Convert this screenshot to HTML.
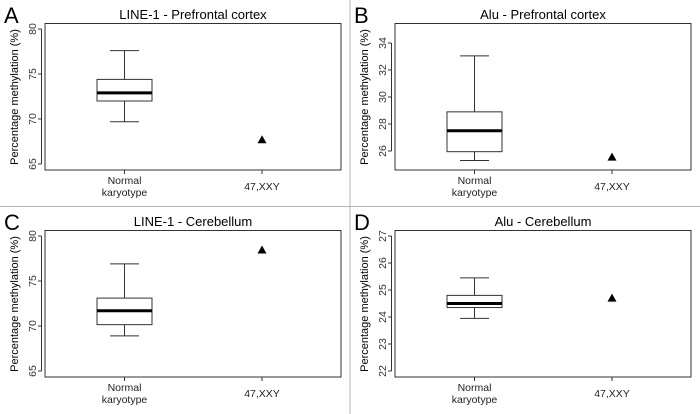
<!DOCTYPE html>
<html><head><meta charset="utf-8"><style>
html,body{margin:0;padding:0;background:#fff}
svg{display:block;font-family:"Liberation Sans",sans-serif}
</style></head><body>
<svg id="fig" width="700" height="414" viewBox="0 0 700 414">
<line x1="350" y1="0" x2="350" y2="414" stroke="#b5b5b5" stroke-width="1"/>
<line x1="0" y1="206.5" x2="700" y2="206.5" stroke="#b5b5b5" stroke-width="1"/>
</svg>
<script>
// panel data
const panelLetters = ["A","B","C","D"];
const panelTitles = ["LINE-1 - Prefrontal cortex","Alu - Prefrontal cortex","LINE-1 - Cerebellum","Alu - Cerebellum"];
const categories = ["Normal karyotype","47,XXY"];
const whiskerLow = [69.7, 25.3, 68.9, 23.95];
const q1 = [72.0, 25.95, 70.15, 24.35];
const median = [72.9, 27.5, 71.7, 24.5];
const q3 = [74.4, 28.9, 73.1, 24.8];
const whiskerHigh = [77.6, 33.05, 76.9, 25.45];
const xxyValue = [67.7, 25.55, 78.45, 24.7];
const tickA = [65,70,75,80];
const tickB = [26,28,30,32,34];
const tickC = [65,70,75,80];
const tickD = [22,23,24,25,26,27];
const ticks = [tickA,tickB,tickC,tickD];

const NS="http://www.w3.org/2000/svg";
const svg=document.getElementById('fig');
function mk(tag,attrs,parent){const e=document.createElementNS(NS,tag);for(const k in attrs)e.setAttribute(k,attrs[k]);(parent||svg).appendChild(e);return e;}

// layout: offsets and tick pixel anchors (first/last tick)
const offX=[0,350,0,350], offY=[0,0,207,207];
const tickPix=[[164,29],[151,43],[164,29],[164,29]];

for(let p=0;p<4;p++){
  const ox=offX[p], oy=offY[p];
  const g=mk('g',{transform:`translate(${ox},${oy})`});
  
  
  const t=ticks[p], t0=t[0], t1=t[t.length-1];
  const y=v=>tickPix[p][0]+(v-t0)*(tickPix[p][1]-tickPix[p][0])/(t1-t0);
  const xc=[124.5,262];
  let e;
  e=mk('text',{x:4,y:23,'font-size':22,fill:'#000'},g);e.textContent=panelLetters[p];
  
  e=mk('text',{x:193,y:19,'font-size':13,'text-anchor':'middle',fill:'#000'},g);e.textContent=panelTitles[p];
  
  e=mk('rect',{x:45,y:23.5,width:296,height:146.5,fill:'none',stroke:'#333','stroke-width':1},g);
  
  // y axis
  e=mk('line',{x1:41.5,x2:41.5,y1:y(t0),y2:y(t1),stroke:'#333'},g);
  
  t.forEach(v=>{
    e=mk('line',{x1:38,x2:41.5,y1:y(v),y2:y(v),stroke:'#333'},g);
    
    e=mk('text',{x:0,y:0,'font-size':10.5,'text-anchor':'middle',fill:'#333',transform:`translate(36,${y(v)}) rotate(-90)`},g);
    e.textContent=v;
    
  });
  e=mk('text',{x:0,y:0,'font-size':11,'text-anchor':'middle',fill:'#000',transform:'translate(18,97) rotate(-90)'},g);
  e.textContent='Percentage methylation (%)';
  
  // x ticks
  xc.forEach((x,i)=>{
    e=mk('line',{x1:x,x2:x,y1:170,y2:174,stroke:'#333'},g);
    
  });
  e=mk('text',{x:xc[0],y:184,'font-size':10.5,'text-anchor':'middle',fill:'#222'},g);e.textContent='Normal';
  
  e=mk('text',{x:xc[0],y:196,'font-size':10.5,'text-anchor':'middle',fill:'#222'},g);e.textContent='karyotype';
  
  e=mk('text',{x:xc[1],y:190,'font-size':10.5,'text-anchor':'middle',fill:'#222'},g);e.textContent=categories[1];
  
  // boxplot
  const bx=97, bw=55;
  e=mk('line',{x1:xc[0],x2:xc[0],y1:y(whiskerHigh[p]),y2:y(q3[p]),stroke:'#333'},g);
  
  e=mk('line',{x1:xc[0],x2:xc[0],y1:y(q1[p]),y2:y(whiskerLow[p]),stroke:'#333'},g);
  
  e=mk('line',{x1:110,x2:139,y1:y(whiskerHigh[p]),y2:y(whiskerHigh[p]),stroke:'#333'},g);
  
  e=mk('line',{x1:110,x2:139,y1:y(whiskerLow[p]),y2:y(whiskerLow[p]),stroke:'#333'},g);
  
  e=mk('rect',{x:bx,y:y(q3[p]),width:bw,height:y(q1[p])-y(q3[p]),fill:'#fff',stroke:'#333'},g);
  
  e=mk('line',{x1:bx,x2:bx+bw,y1:y(median[p]),y2:y(median[p]),stroke:'#000','stroke-width':3},g);
  
  const py=y(xxyValue[p]);
  e=mk('polygon',{points:`${xc[1]-4.5},${py+3.5} ${xc[1]+4.5},${py+3.5} ${xc[1]},${py-4.5}`,fill:'#000'},g);
  
}
</script>
</body></html>
